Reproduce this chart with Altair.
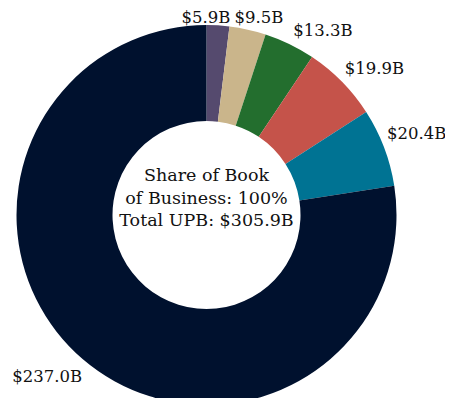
import altair as alt
import pandas as pd

labels = ["$5.9B", "$9.5B", "$13.3B", "$19.9B", "$20.4B", "$237.0B"]
values = [5.9, 9.5, 13.3, 19.9, 20.4, 237.0]
colors = ["#554a6e", "#cab58b", "#236e2e", "#c5534a", "#007393", "#00112e"]
center_lines = ["Share of Book", "of Business: 100%", "Total UPB: $305.9B"]

df = pd.DataFrame({"label": labels, "value": values, "order": list(range(len(labels)))})

FONT = "DejaVu Serif"
TOP = 8
CX, CY = 198.5, 207 - TOP

theta = alt.Theta("value:Q", stack=True)
order = alt.Order("order:Q", sort="ascending")

base = alt.Chart(df)

arcs = base.mark_arc(outerRadius=190, innerRadius=94, stroke=None).encode(
    theta=theta,
    order=order,
    color=alt.Color("label:N", scale=alt.Scale(domain=labels, range=colors), legend=None),
    x=alt.value(CX),
    y=alt.value(CY),
)

# label placement style: (align, dx, dy) around the slice mid-angle at radius 205
label_style = {
    "$5.9B": ("center", -13, 8),
    "$9.5B": ("center", 8, 3),
    "$13.3B": ("left", -3, 0),
    "$19.9B": ("left", -8, -2),
    "$20.4B": ("left", -11, -8),
    "$237.0B": ("right", 9, 6),
}

label_layers = []
for lab, (al, dx, dy) in label_style.items():
    label_layers.append(
        base.mark_text(radius=205, align=al, baseline="middle", dx=dx, dy=dy,
                       font=FONT, fontSize=16.5, color="#111111").encode(
            theta=theta, order=order, text="label:N",
            x=alt.value(CX), y=alt.value(CY),
            opacity=alt.condition(alt.FieldEqualPredicate(field="label", equal=lab),
                                  alt.value(1), alt.value(0)),
        )
    )

centers = []
for k, line in enumerate(center_lines):
    centers.append(
        alt.Chart(pd.DataFrame({"line": [line]})).mark_text(
            font=FONT, fontSize=17.5, color="#111111", baseline="middle"
        ).encode(text="line:N", x=alt.value(CX), y=alt.value(168 - TOP + 22.5 * k))
    )

chart = alt.layer(arcs, *label_layers, *centers).properties(
    width=437, height=390 - TOP,
    padding={"left": 0, "top": TOP, "right": 0, "bottom": 0},
    autosize="none",
).configure_view(stroke=None)

chart.save("out.html", embed_options={"renderer": "svg", "actions": False})
